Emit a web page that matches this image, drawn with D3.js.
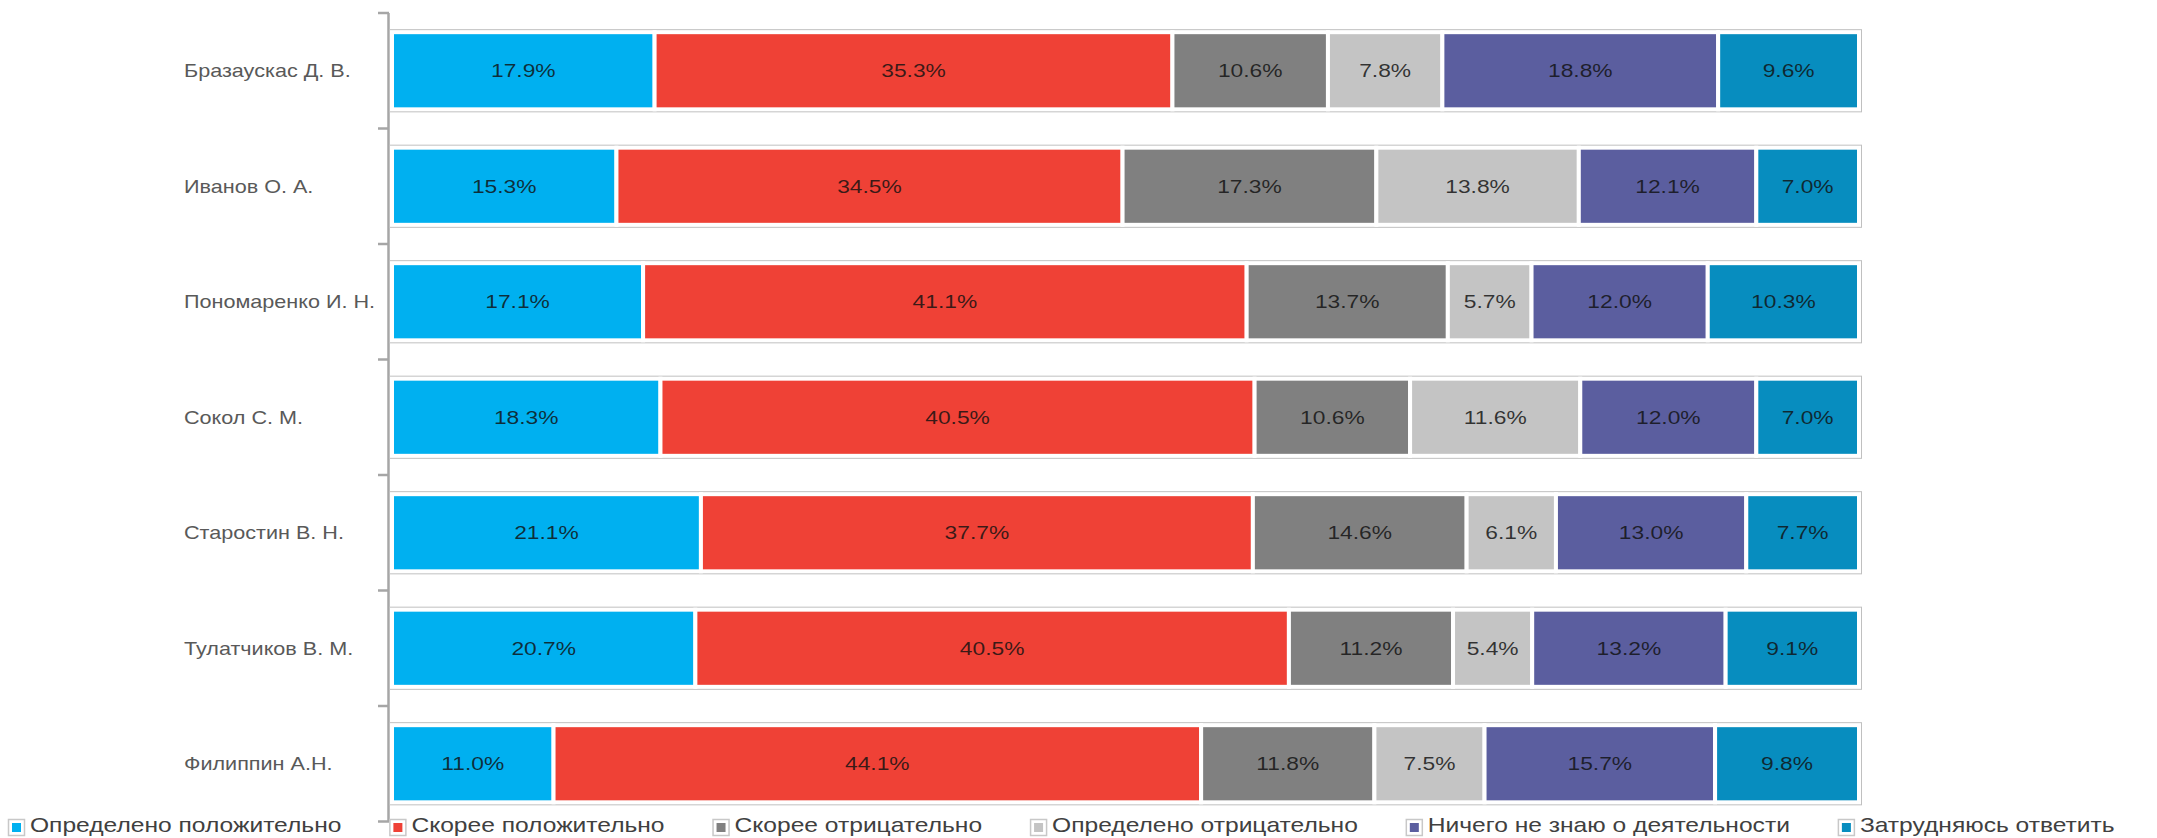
<!DOCTYPE html>
<html>
<head>
<meta charset="utf-8">
<script src="https://cdn.jsdelivr.net/npm/d3@7"></script>
<style>
  html, body { margin: 0; padding: 0; background: #fff; }
  svg { display: block; }
</style>
</head>
<body>
<svg id="chart" width="2157" height="838"></svg>
<script>
const categories = ["Бразаускас Д. В.", "Иванов О. А.", "Пономаренко И. Н.", "Сокол С. М.", "Старостин В. Н.", "Тулатчиков В. М.", "Филиппин А.Н."];
const seriesNames = ["Определено положительно", "Скорее положительно", "Скорее отрицательно", "Определено отрицательно", "Ничего не знаю о деятельности", "Затрудняюсь ответить"];
const definitelyPositive = [17.9, 15.3, 17.1, 18.3, 21.1, 20.7, 11.0];
const ratherPositive     = [35.3, 34.5, 41.1, 40.5, 37.7, 40.5, 44.1];
const ratherNegative     = [10.6, 17.3, 13.7, 10.6, 14.6, 11.2, 11.8];
const definitelyNegative = [7.8, 13.8, 5.7, 11.6, 6.1, 5.4, 7.5];
const knowNothing        = [18.8, 12.1, 12.0, 12.0, 13.0, 13.2, 15.7];
const hardToSay          = [9.6, 7.0, 10.3, 7.0, 7.7, 9.1, 9.8];
const colors = ["#00B0F0", "#EF4136", "#808080", "#C4C4C4", "#5B5E9F", "#078DBF"];

const seriesValues = [definitelyPositive, ratherPositive, ratherNegative, definitelyNegative, knowNothing, hardToSay];
const rows = categories.map((c, i) => {
  const r = { cat: c };
  seriesNames.forEach((s, j) => r[s] = seriesValues[j][i]);
  return r;
});

const svg = d3.select("#chart");
const SX = 1.2; // horizontal text stretch of the reference

const x = d3.scaleLinear().domain([0, 1]).range([392, 1859]);
const y = d3.scaleBand().domain(categories).range([13, 821.5]).paddingInner(0.28).paddingOuter(0.14);
const color = d3.scaleOrdinal().domain(seriesNames).range(colors);

const stack = d3.stack().keys(seriesNames).offset(d3.stackOffsetExpand);
const stacked = stack(rows);

// axis line with ticks between categories
const axisColor = "#A6A6A6";
const step = y.step();
const bounds = d3.range(categories.length + 1).map(i => y(categories[0]) - y.paddingOuter() * step + i * step);
svg.append("line").attr("x1", 388.5).attr("x2", 388.5).attr("y1", bounds[0]).attr("y2", bounds[bounds.length - 1])
  .attr("stroke", axisColor).attr("stroke-width", 2.5);
svg.selectAll("line.tick").data(bounds).enter().append("line").attr("class", "tick")
  .attr("x1", 378).attr("x2", 389).attr("y1", d => d).attr("y2", d => d)
  .attr("stroke", axisColor).attr("stroke-width", 2.5);

// category labels
svg.selectAll("text.cat").data(categories).enter().append("text").attr("class", "cat")
  .attr("transform", d => `translate(184,${y(d) + y.bandwidth() / 2}) scale(${SX},1)`)
  .attr("dy", "0.35em")
  .attr("font-family", "Liberation Sans, Arial, sans-serif")
  .attr("font-size", 18)
  .attr("fill", "#595959")
  .text(d => d);

// bar outer frames
svg.selectAll("rect.frame").data(categories).enter().append("rect").attr("class", "frame")
  .attr("x", x(0) - 1.5).attr("width", x(1) - x(0) + 3)
  .attr("y", d => y(d) + 1.5).attr("height", y.bandwidth() - 3)
  .attr("fill", "#fff").attr("stroke", "#C0C0C0").attr("stroke-width", 3);

// segments
const groups = svg.selectAll("g.series").data(stacked).enter().append("g").attr("class", "series")
  .attr("fill", d => color(d.key));
groups.selectAll("rect").data(d => d.map(p => ({ p, key: d.key }))).enter().append("rect")
  .attr("x", d => x(d.p[0]))
  .attr("width", d => x(d.p[1]) - x(d.p[0]))
  .attr("y", d => y(d.p.data.cat) + 3)
  .attr("height", y.bandwidth() - 6)
  .attr("stroke", "#fff").attr("stroke-width", 4);

// data labels
groups.selectAll("text").data(d => d.map(p => ({ p, key: d.key }))).enter().append("text")
  .attr("transform", d => `translate(${(x(d.p[0]) + x(d.p[1])) / 2},${y(d.p.data.cat) + y.bandwidth() / 2}) scale(${SX},1)`)
  .attr("dy", "0.35em")
  .attr("text-anchor", "middle")
  .attr("font-family", "Liberation Sans, Arial, sans-serif")
  .attr("font-size", 19)
  .attr("fill", "#111")
  .attr("fill-opacity", 0.82)
  .text(d => d3.format(".1f")(d.p.data[d.key]) + "%");

// legend
const legend = svg.append("g").attr("class", "legend");
let lx = 8;
seriesNames.forEach((s, i) => {
  const g = legend.append("g");
  g.append("rect").attr("x", lx + 0.5).attr("y", 819.5).attr("width", 16).attr("height", 16)
    .attr("fill", "#fff").attr("stroke", "#C8C8C8").attr("stroke-width", 1.5);
  g.append("rect").attr("x", lx + 4).attr("y", 823).attr("width", 9).attr("height", 9)
    .attr("fill", colors[i]);
  const t = g.append("text")
    .attr("transform", `translate(${lx + 22},832) scale(${SX},1)`)
    .attr("font-family", "Liberation Sans, Arial, sans-serif")
    .attr("font-size", 20.5)
    .attr("fill", "#404040")
    .text(s);
  const w = t.node().getComputedTextLength() * SX;
  lx += 22 + w + 48;
});
</script>
</body>
</html>
